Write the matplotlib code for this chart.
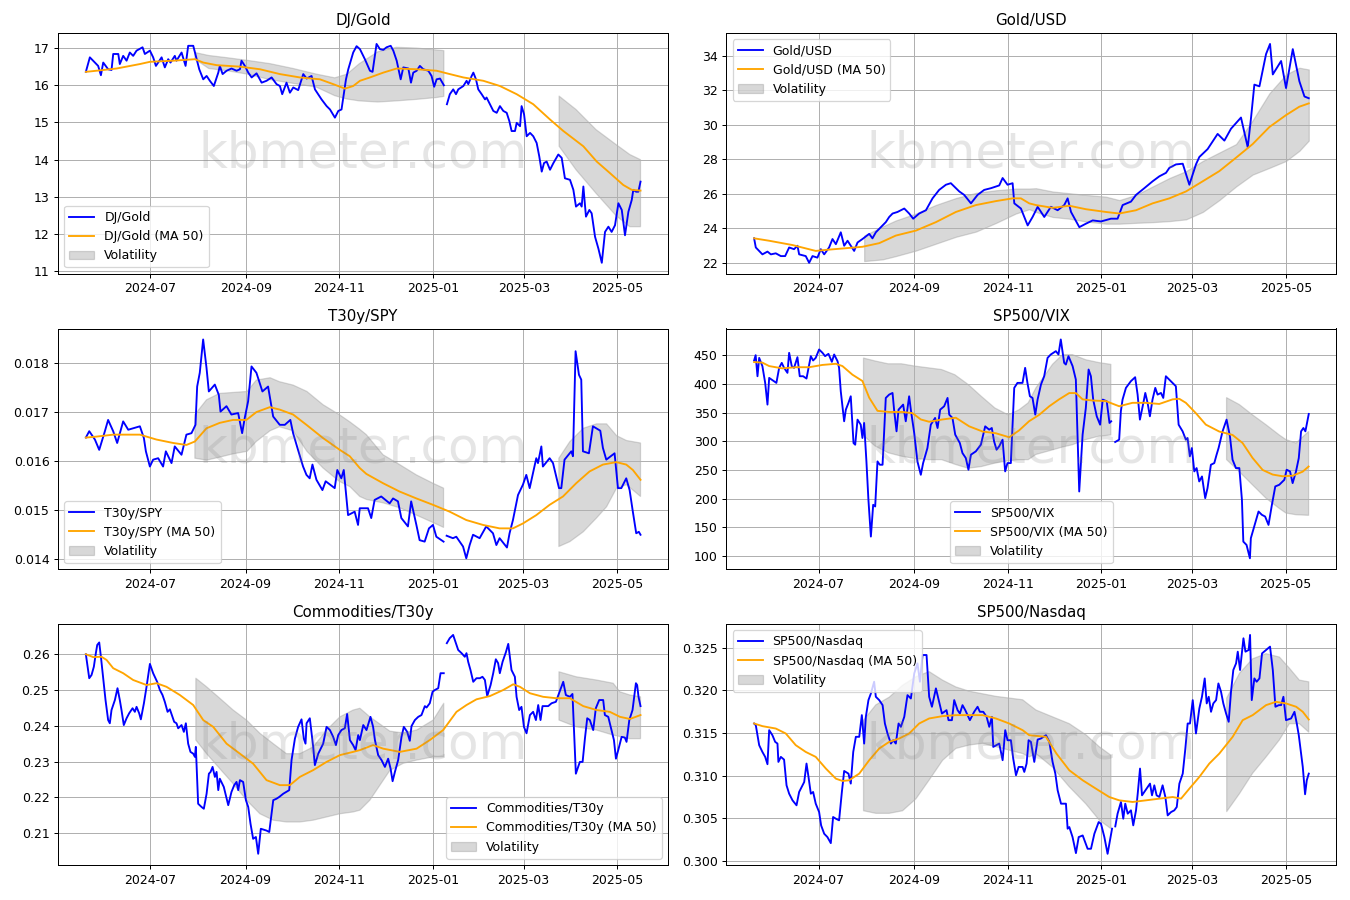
import numpy as np
import pandas as pd
import matplotlib
matplotlib.use("Agg")
import matplotlib.pyplot as plt
import matplotlib.dates as mdates

nan = float("nan")

# x values are calendar days since START; a nan marks the missing session (2025-01-09)
START = "2024-05-20"

# ---------------- DJ/Gold ----------------
DJ_DAY = [0, 2.6, 5.9, 8, 9.8, 11.3, 14.5, 16.7, 17.8, 21.1, 22.1, 24.3, 26.5, 28.6, 30.8, 33, 36.9, 38.4, 41.7, 43.8,
          45.6, 49.3, 51.4, 53.6, 55.1, 57.9, 59, 62.3, 64.9, 66.6, 69.9, 71.6, 73.8, 76.4, 78.6, 80.7, 83.3, 86.2, 87.2, 89,
          91.6, 94.8, 98.1, 100.3, 101.3, 103.5, 105.7, 107.9, 111.1, 114.4, 117.6, 120.9, 124.1, 126.3, 127.8, 130.6, 132.8,
          135, 138.2, 141.5, 143.7, 146.9, 149.1, 153.4, 156.7, 158.9, 162.1, 164.3, 166.4, 169.3, 170.8, 174,
          176.2, 178.4, 181.6, 184.9, 186.6, 189.2, 191.4, 193.6, 195.7, 198.4, 200.1, 202.3, 204.9, 206.6, 209.9, 211.6,
          213.1, 215.3, 217.4, 219.6, 222.9, 225, 226.7, 228.3, 230.5, 233, 234,
          235, 236.9, 239.1, 240.9, 242.4, 245.7, 247.8, 248.9, 251.1, 252.2, 253.9, 255.4, 257.6, 259.8, 260.8, 263, 265.2,
          267.4, 269.5, 271.7, 273.9, 275.6, 277.1, 279.3, 280.4, 282.6, 283.6, 285.2, 286.9, 289.1, 291.2, 293.4, 295.1,
          296.7, 298.2, 299.9, 302.1, 304.3, 307.5, 309.7, 311.8, 315.1, 317.3, 319, 321.6, 322.7, 323.8, 325.5, 327.7,
          329.2, 331.4, 333.6, 335.8, 337.9, 340.1, 342.2, 344.4, 346.6, 348.8, 350.9, 353.1, 355.3, 356.3, 358.1, 359.6, 361]
DJ_GOLD = [16.36, 16.75, 16.61, 16.52, 16.27, 16.61, 16.43, 16.41, 16.84, 16.84, 16.57, 16.79, 16.66, 16.88, 16.79, 16.93,
           17.02, 16.84, 16.93, 16.75, 16.52, 16.75, 16.48, 16.70, 16.61, 16.79, 16.66, 16.88, 16.52, 17.06, 17.06, 16.79,
           16.43, 16.16, 16.25, 16.12, 15.98, 16.34, 16.52, 16.30, 16.39, 16.45, 16.39, 16.43, 16.66, 16.52, 16.34, 16.21,
           16.32, 16.07, 16.12, 16.21, 16.03, 15.98, 15.76, 16.07, 15.80, 15.94, 15.87, 16.30, 16.18, 16.25, 15.89, 15.62,
           15.44, 15.35, 15.13, 15.31, 15.35, 16.16, 16.43, 16.88,
           17.05, 16.97, 16.70, 16.39, 16.36, 17.11, 16.97, 16.95, 17.02, 17.06, 16.93, 16.66, 16.16, 16.48, 16.45, 16.07,
           16.34, 16.39, 16.52, 16.43, 16.39, 16.25, 15.96, 16.16, 16.18, 16.00, nan,
           15.49, 15.76, 15.89, 15.76, 15.89, 15.98, 16.12, 16.03, 16.25, 16.34, 16.16, 15.89, 15.76, 15.62, 15.67, 15.49,
           15.31, 15.26, 15.44, 15.31, 15.26, 15.04, 14.77, 14.77, 14.99, 14.90, 15.44, 15.22, 14.63, 14.72, 14.63, 14.45,
           14.09, 13.68, 13.91, 13.95, 13.73, 13.91, 14.14, 14.05, 13.50, 13.46, 13.19, 12.74, 12.83, 12.74, 13.28, 12.47,
           12.65, 12.56, 11.93, 11.61, 11.23, 12.06, 12.20, 12.06, 12.24, 12.83, 12.65, 11.97, 12.60, 12.92, 13.19, 13.14,
           13.14, 13.41]
DJ_MA_DAY = [0, 6.9, 20, 35.2, 41.7, 56.9, 71, 76.4, 85.1, 100.3, 113.3, 126.3, 139.3, 152.3, 161, 168.6, 174, 178.4,
             184.9, 193.6, 202.3, 215.3, 228.3, 236.9, 245.7, 258.7, 269.5, 280.4, 291.2, 302.1, 310.8, 323.8, 332.5,
             341.1, 349.8, 355.3, 361]
DJ_MA = [16.36, 16.39, 16.45, 16.57, 16.63, 16.66, 16.70, 16.61, 16.54, 16.50, 16.43, 16.30, 16.21, 16.16, 16.03, 15.91,
         15.98, 16.12, 16.21, 16.34, 16.45, 16.43, 16.39, 16.30, 16.21, 16.12, 15.98, 15.76, 15.49, 15.08, 14.77, 14.36,
         13.95, 13.64, 13.32, 13.19, 13.17]
DJ_BAND_DAY = [71, 80, 92, 105, 120, 135, 150, 162, 170, 178, 190, 202, 215, 228, 233, 234, 308, 319, 332, 345, 354, 361]
DJ_UPPER = [16.88, 16.80, 16.74, 16.67, 16.58, 16.45, 16.30, 16.20, 16.30, 16.58, 16.90, 17.02, 17.00, 16.95, 16.93, nan,
            15.71, 15.35, 14.81, 14.41, 14.14, 14.00]
DJ_LOWER = [16.70, 16.45, 16.39, 16.30, 16.15, 16.05, 15.95, 15.72, 15.63, 15.58, 15.55, 15.58, 15.62, 15.67, 15.70, nan,
            14.36, 13.73, 13.10, 12.50, 12.20, 12.20]

# ---------------- Gold/USD ----------------
GOLD_DAY = [0, 1.1, 5.4, 8.7, 10.9, 14.1, 17.4, 20.2, 22.8, 26, 28.2, 29.3, 33.6, 35.8, 38, 41.2, 43.4, 45.6, 48.8, 51,
            53.2, 56.4, 58.6, 60.8, 65.1, 67.3, 70.5, 74.9, 77, 79.2, 83.6, 85.7, 87.9, 90.1, 93.3, 97.7, 100.9, 103.5,
            107.4, 111.8, 116.1, 120.4, 124.8, 128, 133.5, 136.7, 141.1, 145.4, 149.7, 154.1, 159.5, 161.7, 164.9, 168.2,
            169.3, 173.6, 178, 181.2, 184.5, 188.8, 193.1, 197.5, 201.8, 204, 206.2, 211.6, 215.9, 220.3, 225.7, 232.2,
            236.5, 239.8, 245.2, 248.5, 253.9, 259.3, 263.7, 268, 270.2, 274.5, 278.9, 283.2, 287.5, 289.7, 295.1, 301.6,
            306, 310.3, 316.8, 321.2, 323.4, 325.5, 328.8, 333.1, 335.7, 337.5, 342.9, 346.1, 350.5, 354.8, 358.1, 360.9]
GOLD_USD = [23.41, 22.88, 22.48, 22.64, 22.48, 22.54, 22.38, 22.38, 22.88, 22.78, 22.98, 22.48, 22.38, 21.99, 22.38,
            22.29, 22.78, 22.48, 22.88, 23.37, 23.07, 23.76, 22.98, 23.27, 22.68, 23.17, 23.37, 23.67, 23.41, 23.76, 24.16,
            24.35, 24.65, 24.85, 24.94, 25.14, 24.85, 24.55, 24.85, 25.04, 25.73, 26.22, 26.52, 26.61, 26.13, 25.93, 25.44,
            25.93, 26.22, 26.32, 26.48, 26.91, 26.52, 26.61, 25.44, 25.14, 24.16, 24.65, 25.24, 24.65, 25.24, 25.04, 25.34,
            25.73, 24.94, 24.06, 24.26, 24.45, 24.39, 24.55, 24.55, 25.34, 25.54, 25.93, 26.32, 26.72, 27.01, 27.21, 27.50,
            27.70, 27.74, 26.52, 27.70, 28.13, 28.59, 29.47, 29.08, 29.77, 30.42, 28.69, 30.46, 32.33, 32.23, 34.10, 34.69,
            32.92, 33.70, 32.13, 34.39, 32.52, 31.64, 31.54]
GOLD_MA_DAY = [0, 9.8, 25, 40.1, 46.7, 57.5, 70.5, 81.4, 92.2, 105.3, 118.3, 131.3, 144.3, 157.3, 168.2, 173.6, 179,
               183.4, 194.2, 205.1, 215.9, 228.9, 237.6, 248.5, 259.3, 270.2, 281, 291.9, 302.7, 313.6, 324.4, 335.3,
               346.1, 354.8, 360.9]
GOLD_MA = [23.41, 23.27, 23.02, 22.68, 22.74, 22.82, 22.92, 23.13, 23.57, 23.86, 24.35, 24.94, 25.34, 25.57, 25.73, 25.73,
           25.44, 25.34, 25.18, 25.30, 25.10, 24.94, 24.85, 25.04, 25.44, 25.73, 26.13, 26.72, 27.31, 28.09, 28.88, 29.87,
           30.56, 31.05, 31.24]
GOLD_BAND_DAY = [71.6, 83.6, 92.2, 105.3, 118.3, 131.3, 144.3, 157.3, 170.3, 179, 183.4, 194.2, 205.1, 215.9, 228.9,
                 237.6, 248.5, 259.3, 270.2, 281, 291.9, 302.7, 313.6, 324.4, 335.3, 346.1, 354.8, 360.9]
GOLD_UPPER = [23.57, 24.10, 24.45, 24.85, 25.35, 25.75, 26.05, 26.20, 26.30, 26.30, 26.32, 26.13, 26.03, 25.93, 25.83,
              25.63, 25.93, 26.42, 26.91, 27.31, 27.90, 28.39, 28.88, 30.26, 31.83, 32.92, 33.31, 33.21]
GOLD_LOWER = [22.09, 22.19, 22.38, 22.70, 23.10, 23.50, 23.80, 24.30, 24.85, 25.10, 24.94, 24.65, 24.55, 24.39, 24.26,
              24.26, 24.31, 24.35, 24.41, 24.51, 24.94, 25.63, 26.42, 27.11, 27.50, 27.90, 28.49, 29.08]

# ---------------- T30y/SPY (values in thousandths) ----------------
T30_DAY = [0, 2.2, 5.9, 8.7, 12.4, 14.5, 17.8, 20.4, 24.3, 27.6, 30.8, 35.2, 37.8, 39.1, 41.7, 43.8, 47.1, 50.3, 52.1,
           55.8, 57.9, 62.3, 65.5, 68.8, 71.4, 72.5, 74.2, 76.4, 78.6, 80.1, 84, 86.6, 87.7, 91.6, 94.8, 99.2, 101.8, 103.5,
           105.7, 107.9, 111.1, 115, 118.7, 122, 126.3, 129.6, 133.2, 135, 138.2, 141.5, 143.7, 145.8, 147.6, 150.2, 154.1,
           156.2, 162.1, 163.8, 166.4, 168, 170.8, 175.1, 177.3,
           178.4, 183.8, 185.9, 188.1, 192.4, 197.9, 200.1, 203.3, 205.5, 209.8, 211.9, 215.3, 217.4, 220.7, 223.5, 226.1,
           228.3, 233, 234,
           235, 239.1, 241.3, 245.7, 247.8, 250, 252.2, 256.5, 260.8, 265.2, 267.4, 269.5, 274.3, 276, 278.2, 281.5, 284.7,
           286.9, 289.1, 293.4, 294.5, 296.7, 297.7, 302.1, 304.3, 308.2, 309.7, 311.8, 316.2, 317.3, 319, 321.2, 322.7,
           323.8, 327.7, 330.3, 335.1, 336.8, 339, 344.4, 346.6, 348.8, 352, 354.2, 356.3, 358.5, 360.2, 361.3]
T30_SPY = [16.48, 16.61, 16.44, 16.23, 16.61, 16.84, 16.61, 16.37, 16.81, 16.64, 16.67, 16.71, 16.47, 16.20, 15.89, 16.03,
           16.06, 15.89, 16.20, 15.96, 16.30, 16.13, 16.54, 16.57, 16.74, 17.52, 17.80, 18.48, 17.90, 17.42, 17.56, 17.35,
           17.01, 17.12, 16.95, 16.98, 16.57, 16.88, 17.22, 17.93, 17.80, 17.42, 17.52, 16.91, 16.74, 16.74, 16.84, 16.57,
           16.23, 15.89, 15.72, 15.65, 15.93, 15.62, 15.41, 15.59, 15.45, 15.82, 15.65, 15.82, 14.90, 14.97, 14.70,
           15.04, 15.04, 14.84, 15.21, 15.28, 15.14, 15.24, 15.18, 14.84, 14.67, 15.18, 14.70, 14.39, 14.36, 14.63, 14.70,
           14.46, 14.36, nan,
           14.48, 14.43, 14.46, 14.26, 14.02, 14.29, 14.50, 14.43, 14.67, 14.53, 14.29, 14.43, 14.24, 14.53, 14.80, 15.31,
           15.52, 15.72, 15.45, 16.06, 15.96, 16.30, 15.89, 16.06, 15.96, 15.45, 15.45, 16.03, 16.20, 16.10, 18.24, 17.76,
           17.66, 16.20, 16.16, 16.71, 16.62, 16.27, 16.03, 16.16, 15.45, 15.45, 15.65, 15.41, 14.97, 14.53, 14.56, 14.50]
T30_MA_DAY = [0, 6.9, 17.8, 35.2, 46, 56.9, 65.5, 71, 78.6, 87.2, 95.9, 104.6, 111.1, 119.8, 126.3, 135, 143.7, 154.5,
              165.4, 171.9, 178.4, 182.7, 193.6, 204.4, 215.3, 226.1, 237, 247.8, 258.7, 269.5, 278.2, 284.7, 293.4,
              302.1, 310.8, 319.4, 328.1, 336.8, 345.5, 352, 356.3, 361.3]
T30_MA = [16.48, 16.50, 16.54, 16.54, 16.44, 16.37, 16.33, 16.40, 16.67, 16.78, 16.84, 16.84, 17.00, 17.10, 17.05, 16.95,
          16.74, 16.47, 16.23, 16.10, 15.86, 15.74, 15.55, 15.38, 15.24, 15.11, 14.97, 14.80, 14.70, 14.63, 14.63, 14.73,
          14.90, 15.11, 15.28, 15.55, 15.79, 15.93, 15.98, 15.93, 15.82, 15.62]
T30_BAND_DAY = [71, 78.6, 87, 96, 105, 111, 120, 126, 135, 144, 154.5, 165, 172, 178.4, 182.7, 193.6, 204.4, 215.3,
                226.1, 233, 234, 308.1, 315.3, 324, 332.6, 339.2, 345.7, 352.2, 361.3]
T30_UPPER = [16.95, 17.25, 17.38, 17.40, 17.42, 17.65, 17.70, 17.62, 17.55, 17.42, 17.15, 16.95, 16.80, 16.65, 16.54,
             16.13, 15.93, 15.72, 15.55, 15.45, nan, 16.06, 16.40, 16.67, 16.76, 16.76, 16.52, 16.42, 16.37]
T30_LOWER = [16.06, 16.02, 16.08, 16.15, 16.20, 16.40, 16.62, 16.70, 16.62, 16.20, 15.86, 15.59, 15.48, 15.28, 15.22,
             15.15, 15.05, 14.90, 14.75, 14.65, nan, 14.26, 14.36, 14.56, 14.84, 15.07, 15.45, 15.52, 15.28]

# ---------------- SP500/VIX ----------------
VIX_DAY = [0, 1, 2.2, 3.3, 5.4, 7.2, 8.7, 9.8, 13, 14.5, 16.3, 18, 19.5, 21.7, 22.8, 24.5, 26, 28.2, 29.7, 31.9, 34.1,
           36.9, 38.4, 40.1, 42.3, 44.5, 46.2, 48.4, 50.6, 52.1, 54.3, 55.3, 56.4, 58.6, 59.7, 61.4, 62.9, 64.7, 65.8, 67.3,
           69.4, 70.5, 71.6, 73.1, 74.4, 76, 77.5, 78.8, 80.3, 81.8, 83.6, 85.7, 87.9, 90.1, 91.1, 92.7, 94, 97, 98.7,
           100.9, 102, 104.2, 106.3, 108.5, 110, 112.8, 115, 117.8, 119.4, 121.1, 123.7, 125.9, 127, 129.1, 130.9, 133.9,
           135.6, 137.8, 139.5, 141.1, 144.3, 147.6, 150.4, 153, 154.7, 156.2, 157.8, 159.5, 161.7, 163.4, 164.9, 167.1,
           169.3, 171.4, 174.7,
           176.4, 177.9, 179.5, 181.2, 183, 184.5, 186.7, 188.8, 191, 193.1, 196.4, 198.1, 199.6, 201.8, 202.9, 204.6,
           207.3, 209.4, 211.6, 213.8, 215.9, 217.7, 219.2, 220.7, 223, 225.2, 226.9, 229.5, 231.3, 232.4, 234,
           235, 237.6, 238.7, 239.8, 242, 245.2, 248, 249.6, 251.1, 252.9, 254.6, 256.1, 257.6, 259.3, 261.1, 262.6,
           264.8, 266.3, 268, 270.2, 273.4, 274.5, 276.3, 278.9, 281, 282.1, 283.6, 284.9, 286.5, 288, 289.7, 291.5,
           293.6, 295.1, 297.3, 299.5, 301, 302.3, 304.9, 307.5, 309.7, 311.4, 313.6, 315.8, 317.5, 318.4, 320.5, 322.7,
           323.3, 325.5, 328.3, 330.5, 332.6, 334.8, 337, 339.2, 341.8, 345.1, 346.6, 348.8, 350.5, 352.7, 354.5, 356,
           357.5, 358.8, 361]
SP500_VIX = [440.7, 450, 413.3, 445.3, 430.8, 401.7, 363.9, 410.4, 404.6, 401.7, 427.9, 436.6, 427.9, 419.2, 454.1,
             430.8, 427.9, 446.5, 413.3, 413.3, 409.3, 448.3, 440.7, 445.3, 459.9, 454.1, 448.3, 452.3, 438.4, 451.2,
             439.5, 427.9, 387.1, 334.8, 355.1, 366.8, 378.4, 296.9, 294.0, 337.7, 328.9, 305.7, 331.9, 264.9, 198.0,
             134.0, 189.3, 186.4, 264.9, 259.1, 259.1, 375.5, 381.3, 384.2, 355.1, 317.3, 355.1, 363.9, 334.8, 378.4,
             355.1, 314.4, 264.9, 241.6, 262.0, 288.2, 328.9, 340.6, 323.1, 355.1, 361.0, 375.5, 346.4, 340.6, 311.5,
             296.9, 279.5, 270.7, 250.4, 276.6, 282.4, 294.0, 326.0, 320.2, 323.1, 299.8, 285.3, 291.1, 302.8, 247.5,
             262.0, 262.0, 393.0, 401.7, 401.7,
             427.9, 401.7, 378.4, 375.5, 346.4, 372.6, 398.8, 413.3, 445.3, 451.2, 457.0, 451.2, 477.4, 436.6, 433.7,
             448.3, 430.8, 407.5, 212.5, 311.5, 358.0, 425.0, 413.3, 372.6, 343.5, 328.9, 372.6, 369.7, 331.9, 334.8, nan,
             298.7, 302.8, 352.2, 372.6, 393.0, 404.6, 411.6, 381.3, 337.7, 360.9, 384.2, 366.8, 343.5, 372.6, 393.0,
             381.3, 384.2, 375.5, 413.3, 407.5, 398.8, 395.9, 328.9, 317.3, 302.8, 305.7, 273.7, 288.2, 247.5, 253.3,
             230.0, 238.7, 200.9, 218.4, 259.1, 262.0, 276.6, 288.2, 317.3, 337.7, 308.6, 267.8, 253.3, 253.3, 198.0,
             125.2, 119.4, 96.1, 131.1, 151.4, 177.6, 171.8, 168.9, 154.3, 189.3, 221.3, 224.2, 232.9, 250.4, 247.5,
             227.1, 247.5, 270.7, 317.3, 323.1, 317.3, 347.6]
VIX_MA_DAY = [0, 5.4, 9.8, 18.4, 27.1, 35.8, 44.5, 53.2, 57.5, 64, 70.5, 74.9, 80.3, 87.9, 96.6, 103.1, 108.5, 113.9,
              122.6, 131.3, 140, 148.7, 157.3, 166, 172.5, 179, 185.5, 192.1, 198.5, 205.1, 209.4, 213.8, 220.3, 228.9,
              237.6, 246.3, 254.9, 263.7, 272.4, 276.7, 281, 287.5, 294, 302.7, 311.4, 317.9, 324.4, 331, 337.5, 344,
              350.5, 357, 360.9]
VIX_MA = [438, 437, 431, 427, 429, 429, 433, 435, 431, 416, 405, 376, 353, 351, 351, 349, 338, 334, 338, 341, 326, 317,
          314, 307, 319, 335, 346, 361, 373, 384, 384, 373, 371, 370, 361, 367, 367, 365, 373, 374, 367, 349, 329, 317,
          311, 297, 271, 250, 242, 239, 240, 247, 256]
VIX_BAND_DAY = [71.2, 78.6, 87.2, 95.9, 104.6, 113.3, 122, 130.6, 139.3, 148, 156.7, 165.4, 172.5, 178.4, 183.4, 194.2,
                200.7, 207.2, 215.9, 224.6, 232.2, 234, 307.5, 315.8, 324.4, 333.1, 341.8, 346.1, 352.7, 360.9]
VIX_UPPER = [445, 440, 435, 435, 431, 428, 425, 416, 399, 378, 358, 346, 355, 367, 393, 434, 451, 451, 442, 437, 434, nan,
             376, 364, 346, 329, 311, 303, 297, 317]
VIX_LOWER = [310, 292, 280, 274, 270, 268, 268, 260, 253, 256, 262, 266, 268, 268, 277, 285, 290, 294, 303, 309, 311, nan,
             268, 247, 224, 201, 183, 175, 172, 171]

# ---------------- Commodities/T30y (values in hundredths) ----------------
CMD_DAY = [0, 2.2, 3.7, 5.2, 6.5, 7.4, 8.7, 9.8, 11.3, 12.8, 14.5, 15.6, 16.7, 18.9, 20.6, 22.1, 23.2, 24.7, 26.5, 28.2,
           30.4, 31.9, 33, 34.7, 35.8, 37.8, 39.5, 41.7, 43.8, 46.4, 48.2, 49.9, 51.4, 53.2, 54.7, 57.5, 59, 60.1, 62.3,
           63.8, 65.1, 66.6, 68.1, 69.9, 71, 71.6, 73.1, 75.3, 76.8, 78.6, 80.1, 81.2, 82.5, 84, 85.1, 86.2, 87.2, 89.8,
           92.7, 94.8, 96.6, 98.1, 99.2, 100.3, 102.4, 104.2, 105.7, 107.2, 108.9, 110.7, 112.2, 113.9, 117.6, 119.4, 122,
           124.1, 125.9, 128.5, 132.4, 133.9, 136.1, 138.2, 140.4, 141.9, 143, 143.7, 145.8, 148, 149.1, 151.3, 154.5,
           156.7, 158.9, 161, 162.8, 164.3, 166.4, 168.6, 170.1, 171.9, 174, 175.6, 177.3,
           178.4, 180.6, 182.7, 185.3, 187, 188.2, 190.3, 192.5, 194.7, 196.8, 198.4, 199.7, 201.2, 203.3, 205.5, 207,
           209.2, 210.9, 212, 214.2, 216.4, 218.5, 220.7, 221.8, 223.9, 225.7, 227.2, 229.4, 230.9, 233, 234,
           235, 236.9, 239.1, 240.9, 242.4, 244.6, 246.7, 247.8, 248.9, 250.4, 252.2, 254.3, 256.5, 258.2, 259.8, 261.3,
           263.5, 265.2, 266.9, 268.4, 269.5, 271.3, 273.4, 275, 277.1, 279.3, 280.4, 282.1, 283.6, 285.2, 286.9, 289.1,
           291.2, 293, 294.5, 296, 297.3, 301, 303.2, 306, 308.2, 310.8, 312.5, 315.1, 316.8, 319, 321.6, 323.4, 324.9,
           326.4, 328.1, 330.3, 332, 334.2, 336.8, 337.9, 340.1, 342.2, 343.8, 345.1, 346.6, 348.8, 350.9, 352, 353.8,
           355.9, 358.1, 358.9, 359.8, 361.1]
CMD_T30 = [26.00, 25.33, 25.42, 25.65, 26.03, 26.26, 26.33, 25.93, 25.33, 24.72, 24.16, 24.07, 24.44, 24.72, 25.05, 24.72,
           24.44, 24.02, 24.21, 24.35, 24.49, 24.39, 24.53, 24.35, 24.18, 24.63, 25.09, 25.73, 25.47, 25.23, 25.00, 24.86,
           24.67, 24.39, 24.46, 24.11, 24.07, 23.93, 24.02, 23.83, 24.07, 23.50, 23.27, 23.22, 23.13, 23.41, 21.82, 21.73,
           21.68, 22.10, 22.66, 22.71, 22.85, 22.57, 22.71, 22.20, 22.52, 22.29, 21.78, 22.15, 22.34, 22.43, 22.20, 22.48,
           22.43, 21.92, 21.73, 21.26, 20.84, 20.89, 20.42, 21.12, 21.07, 21.03, 21.92, 21.96, 22.01, 22.10, 22.20, 23.04,
           23.64, 23.97, 24.18, 23.64, 23.50, 24.07, 24.21, 23.41, 22.90, 23.22, 23.50, 23.97, 23.88, 23.69, 23.46, 23.74,
           23.88, 23.93, 24.33, 23.60, 23.46, 23.32, 23.74,
           23.60, 24.02, 23.88, 24.25, 23.97, 23.60, 23.18, 23.04, 22.85, 23.08, 22.80, 22.45, 22.71, 23.04, 23.69, 23.97,
           23.83, 23.58, 23.99, 24.16, 24.25, 24.30, 24.55, 24.51, 24.63, 24.95, 25.00, 25.05, 25.47, 25.47, nan,
           26.31, 26.45, 26.54, 26.31, 26.12, 26.03, 25.93, 26.03, 25.79, 25.56, 25.23, 25.33, 25.33, 25.37, 25.28, 24.83,
           25.14, 25.47, 25.86, 25.75, 25.47, 25.79, 26.05, 26.29, 25.56, 25.37, 24.81, 24.44, 24.53, 23.97, 23.79, 24.30,
           24.39, 24.16, 24.58, 24.16, 24.55, 24.55, 24.63, 24.67, 24.93, 25.23, 24.86, 24.81, 24.89, 22.66, 22.99, 22.99,
           23.64, 24.21, 24.16, 23.88, 24.49, 24.72, 24.72, 24.30, 24.25, 23.88, 23.60, 23.08, 23.32, 23.69, 23.67, 23.55,
           24.16, 24.44, 25.19, 25.14, 24.81, 24.55]
CMD_MA_DAY = [0, 4.8, 10.2, 13.5, 17.8, 24.3, 30.8, 39.5, 46, 52.5, 61.2, 69.9, 76.4, 82.9, 91.6, 100.3, 108.9, 117.6,
              126.3, 132.8, 139.3, 148, 156.7, 165.4, 174, 178.4, 187, 193.6, 204.4, 215.3, 223.9, 232.6, 241.3, 247.8,
              254.3, 263, 271.7, 278.2, 282.6, 289.1, 297.7, 306.4, 315.1, 323.8, 332.5, 341.1, 347.7, 354.2, 361.1]
CMD_MA = [26.00, 25.92, 25.93, 25.84, 25.61, 25.47, 25.28, 25.14, 25.19, 25.09, 24.86, 24.58, 24.16, 23.97, 23.50, 23.22,
          22.94, 22.48, 22.34, 22.34, 22.57, 22.76, 22.99, 23.18, 23.27, 23.32, 23.46, 23.36, 23.27, 23.36, 23.60, 23.88,
          24.39, 24.58, 24.74, 24.83, 25.00, 25.16, 25.09, 24.91, 24.81, 24.77, 24.77, 24.55, 24.44, 24.39, 24.25, 24.19,
          24.30]
CMD_BAND_DAY = [71.6, 78.6, 87.2, 95.9, 104.6, 113.3, 122, 130.6, 139.3, 148, 156.7, 165.4, 174, 178.4, 184.9, 197.9,
                206.6, 215.3, 226.1, 233, 234, 308, 319.3, 332.4, 343.3, 347.7, 354.2, 361.1]
CMD_UPPER = [25.33, 25.09, 24.77, 24.44, 24.16, 23.79, 23.50, 23.22, 23.22, 23.41, 23.88, 24.25, 24.44, 24.49, 24.25,
             23.85, 23.80, 23.88, 24.16, 24.63, nan, 25.51, 25.37, 25.28, 25.19, 24.95, 24.86, 24.81]
CMD_LOWER = [23.60, 23.22, 22.80, 22.38, 21.92, 21.54, 21.36, 21.31, 21.31, 21.36, 21.45, 21.54, 21.59, 21.64, 21.92,
             22.75, 22.95, 23.04, 23.13, 23.13, nan, 24.16, 23.97, 23.88, 23.74, 23.70, 23.64, 23.64]

# ---------------- SP500/Nasdaq (values in thousandths) ----------------
NDQ_DAY = [0, 1.1, 3.3, 5.4, 7.2, 8.7, 9.8, 11.9, 13.7, 15.2, 15.8, 17.4, 19.5, 21.1, 22.8, 25, 27.6, 29.3, 31, 32.6,
           34.1, 35.4, 36.9, 38.4, 40.1, 42.3, 43.6, 45.6, 47.7, 49.9, 51.4, 53.2, 55.3, 57.1, 58.6, 61.4, 62.9, 64.5,
           66.2, 68.4, 70.1, 71.6, 72.7, 74.4, 76, 78.1, 79.2, 81.4, 83.6, 85.1, 86.8, 89, 90.5, 92.2, 94, 95.5, 97.7,
           99.8, 102, 104.2, 106.3, 107.9, 109.6, 112.2, 113.9, 115.7, 118.3, 120.4, 122.2, 125.2, 126.5, 128.7, 130.2,
           132.4, 133.9, 135.6, 137.4, 140.4, 143.2, 145.4, 146.9, 149.1, 151.3, 153, 154.7, 155.6, 159.5, 161.7, 163.4,
           164.9, 167.1, 168.6, 170.4, 172.1, 174.7, 175.8, 177.3, 178.6,
           180.1, 182.3, 184.5, 186.6, 189.9, 192.1, 194.2, 196, 197.5, 199.7, 202.9, 204, 205.1, 207.2, 209.4, 211.2,
           213.8, 217, 219.2, 221.4, 224.2, 225.7, 227.9, 230, 232.9, 234,
           235, 236.5, 238.7, 240.2, 241.5, 243.1, 245.2, 246.7, 248.5, 249.6, 251.1, 252.4, 253.9, 256.1, 257.6, 258.9,
           260.4, 261.9, 263.7, 265.8, 267.6, 269.1, 271.3, 273.4, 275, 276.7, 278.9, 280.6, 282.1, 283.6, 285.4, 287.5,
           289.7, 291.4, 293.2, 294.5, 295.8, 297.3, 298.8, 300.6, 302.1, 303.8, 305.3, 307.1, 308.8, 310.3, 311.8, 313.6,
           314.7, 316.2, 318.4, 319.7, 321.8, 322.7, 323.8, 325.5, 327, 328.8, 330.5, 333.1, 335.7, 337.5, 339.2, 341.4,
           342.9, 344.4, 346.1, 349.4, 351.6, 353.1, 354.4, 355.9, 357, 358.5, 359.6, 360.9]
SP500_NDQ = [316.12, 315.92, 313.58, 312.79, 312.21, 311.35, 315.34, 314.75, 313.97, 313.77, 311.62, 312.21, 311.89,
             308.88, 307.90, 307.12, 306.54, 308.10, 308.69, 309.27, 311.43, 309.86, 307.90, 308.10, 306.73, 305.75,
             304.19, 303.21, 302.82, 302.11, 305.17, 304.97, 304.78, 308.10, 310.56, 310.25, 309.08, 312.79, 314.56,
             314.56, 317.10, 313.77, 316.90, 318.86, 319.64, 321.01, 319.25, 318.86, 318.27, 316.12, 314.95, 313.77,
             314.16, 313.77, 316.12, 315.73, 316.90, 319.44, 319.05, 321.99, 323.16, 321.01, 324.14, 324.14, 319.25,
             318.08, 320.23, 318.66, 317.29, 317.68, 316.51, 316.51, 318.86, 317.68, 317.29, 318.27, 317.68, 316.51,
             317.49, 318.08, 317.49, 317.49, 316.90, 315.73, 316.90, 313.38, 313.77, 311.82, 315.34, 314.16, 314.16,
             312.01, 310.06, 311.03, 311.03, 310.45, 311.43, 314.16,
             313.97, 311.62, 314.24, 314.36, 314.75, 313.97, 311.62, 310.25, 308.30, 306.73, 306.73, 303.80, 303.99,
             302.82, 300.94, 302.82, 303.01, 301.45, 301.45, 303.21, 304.58, 304.38, 302.82, 300.86, 303.80, nan,
             304.07, 305.56, 306.93, 304.97, 306.73, 305.56, 305.95, 304.19, 305.95, 307.90, 310.84, 307.71, 308.10,
             308.69, 309.08, 307.71, 308.88, 307.71, 307.51, 308.88, 307.51, 305.36, 305.75, 305.95, 306.34, 309.08,
             310.25, 313.19, 316.12, 316.12, 318.86, 314.95, 317.88, 319.25, 321.40, 318.47, 319.25, 317.49, 318.47,
             318.86, 320.81, 319.84, 318.47, 317.29, 316.32, 319.84, 322.38, 323.16, 324.53, 322.38, 326.10, 324.53,
             324.73, 326.49, 318.86, 321.40, 321.01, 321.40, 324.33, 324.73, 325.12, 322.38, 318.08, 318.27, 318.27,
             319.25, 316.51, 316.71, 317.49, 316.12, 314.75, 312.60, 311.03, 307.83, 309.47, 310.25]
NDQ_MA_DAY = [0, 5.4, 14.1, 20.6, 27.1, 33.6, 40.1, 46.7, 53.2, 57.5, 61.8, 68.4, 74.9, 81.4, 87.9, 94.4, 100.9, 107.4,
              113.9, 122.6, 131.3, 140, 148.7, 157.3, 166, 174.7, 179, 189.9, 196.7, 205.1, 213.8, 222.4, 231.1, 237.6,
              246.3, 254.9, 263.7, 272.4, 277.8, 283.2, 289.7, 296.2, 302.7, 311.4, 317.9, 324.4, 333.1, 339.6, 346.1,
              352.7, 357, 360.9]
NDQ_MA = [316.12, 315.81, 315.53, 314.95, 313.58, 312.79, 312.21, 310.84, 309.66, 309.39, 309.47, 310.25, 311.82, 313.19,
          313.97, 314.36, 314.95, 316.12, 316.71, 316.98, 317.10, 317.10, 317.10, 316.71, 316.12, 315.34, 314.75, 314.56,
          312.60, 310.64, 309.47, 308.49, 307.51, 307.12, 306.93, 307.12, 307.32, 307.51, 307.32, 308.49, 309.86, 311.43,
          312.60, 314.56, 316.51, 317.10, 318.27, 318.66, 318.47, 318.08, 317.49, 316.59]
NDQ_BAND_DAY = [71.2, 79.2, 87.9, 96.6, 105.3, 113.9, 122.6, 131.3, 140, 148.7, 157.3, 166, 174.7, 179, 183.4, 194.2,
                205.1, 215.9, 224.6, 232.2, 234, 307.5, 315.8, 324.4, 333.1, 341.8, 348.3, 354.8, 360.9]
NDQ_UPPER = [316.5, 318.3, 319.2, 320.6, 321.6, 322.2, 321.2, 320.4, 319.9, 319.6, 319.3, 319.1, 318.9, 318.3, 317.7,
             316.9, 316.1, 314.8, 313.4, 312.4, nan, 319.1, 322.0, 323.7, 324.3, 323.9, 322.6, 321.2, 321.0]
NDQ_LOWER = [305.9, 305.6, 305.6, 305.9, 307.3, 309.5, 311.8, 313.2, 313.6, 313.8, 313.4, 313.0, 312.6, 312.2, 312.6,
             311.0, 308.7, 306.7, 304.8, 303.8, nan, 305.8, 307.9, 310.3, 312.2, 314.2, 316.1, 316.1, 315.1]


def to_dates(days):
    return pd.Timestamp(START) + pd.to_timedelta(np.asarray(days, dtype=float), unit="D")


def draw_panel(ax, name, day, val, ma_day, ma, band_day, upper, lower, scale=1.0, loc="best"):
    ax.plot(to_dates(day), np.asarray(val) * scale, color="blue", label=name)
    ax.plot(to_dates(ma_day), np.asarray(ma) * scale, color="orange", label=f"{name} (MA 50)")
    ax.fill_between(to_dates(band_day), np.asarray(lower) * scale, np.asarray(upper) * scale,
                    color="gray", alpha=0.3, label="Volatility")
    ax.set_title(name)
    ax.grid(True)
    ax.legend(loc=loc)
    ax.xaxis.set_major_locator(mdates.MonthLocator(bymonth=[1, 3, 5, 7, 9, 11]))
    ax.xaxis.set_major_formatter(mdates.DateFormatter("%Y-%m"))
    # watermark
    ax.text(0.5, 0.5, "kbmeter.com", transform=ax.transAxes, fontsize=40, color="gray",
            alpha=0.2, ha="center", va="center")


fig, axes = plt.subplots(3, 2, figsize=(15, 10), dpi=90)

draw_panel(axes[0, 0], "DJ/Gold", DJ_DAY, DJ_GOLD, DJ_MA_DAY, DJ_MA,
           DJ_BAND_DAY, DJ_UPPER, DJ_LOWER, loc="lower left")
draw_panel(axes[0, 1], "Gold/USD", GOLD_DAY, GOLD_USD, GOLD_MA_DAY, GOLD_MA,
           GOLD_BAND_DAY, GOLD_UPPER, GOLD_LOWER, loc="upper left")
draw_panel(axes[1, 0], "T30y/SPY", T30_DAY, T30_SPY, T30_MA_DAY, T30_MA,
           T30_BAND_DAY, T30_UPPER, T30_LOWER, scale=1e-3, loc="lower left")
draw_panel(axes[1, 1], "SP500/VIX", VIX_DAY, SP500_VIX, VIX_MA_DAY, VIX_MA,
           VIX_BAND_DAY, VIX_UPPER, VIX_LOWER, loc="lower center")
draw_panel(axes[2, 0], "Commodities/T30y", CMD_DAY, CMD_T30, CMD_MA_DAY, CMD_MA,
           CMD_BAND_DAY, CMD_UPPER, CMD_LOWER, scale=1e-2, loc="lower right")
draw_panel(axes[2, 1], "SP500/Nasdaq", NDQ_DAY, SP500_NDQ, NDQ_MA_DAY, NDQ_MA,
           NDQ_BAND_DAY, NDQ_UPPER, NDQ_LOWER, scale=1e-3, loc="upper left")

plt.tight_layout()
plt.savefig("out.png")
